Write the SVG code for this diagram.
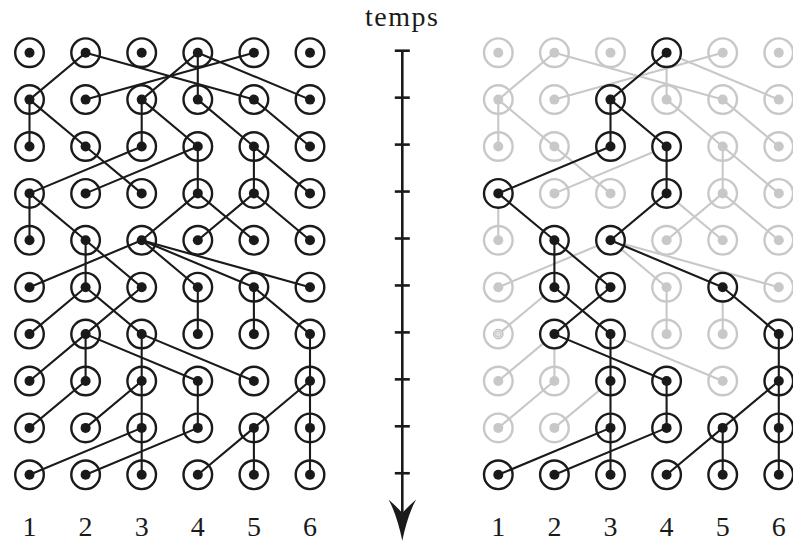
<svg xmlns="http://www.w3.org/2000/svg" width="793" height="541" viewBox="0 0 793 541">
<style>
.bg{fill:#ffffff}
.edge{stroke:#1a1a1a;stroke-width:2.1;fill:none;stroke-linecap:round}
.gedge{stroke:#c8c8c8;stroke-width:2.1;fill:none;stroke-linecap:round}
.ring{fill:#ffffff;stroke:#1a1a1a;stroke-width:2.4}
.dot{fill:#1a1a1a}
.gring{fill:none;stroke:#c8c8c8;stroke-width:2.4}
.gdot{fill:#c8c8c8}
.lbl{font-family:"Liberation Serif","DejaVu Serif",serif;font-size:28px;fill:#1a1a1a;text-anchor:middle}
.axis{stroke:#1a1a1a;stroke-width:2.6;fill:none}
</style>
<defs>
<g id="nk"><circle r="14.3" class="ring"/><circle r="5" class="dot"/></g>
<g id="ng"><circle r="14.3" class="gring"/><circle r="5" class="gdot"/></g>
</defs>
<rect class="bg" x="0" y="0" width="793" height="541"/>

<!-- LEFT PANEL -->
<g id="left-nodes">
<g id="L-1-0"><use href="#nk" x="29.5" y="52.7"/></g>
<g id="L-2-0"><use href="#nk" x="85.6" y="52.7"/></g>
<g id="L-3-0"><use href="#nk" x="141.7" y="52.7"/></g>
<g id="L-4-0"><use href="#nk" x="197.8" y="52.7"/></g>
<g id="L-5-0"><use href="#nk" x="253.9" y="52.7"/></g>
<g id="L-6-0"><use href="#nk" x="310" y="52.7"/></g>
<g id="L-1-1"><use href="#nk" x="29.5" y="99.6"/></g>
<g id="L-2-1"><use href="#nk" x="85.6" y="99.6"/></g>
<g id="L-3-1"><use href="#nk" x="141.7" y="99.6"/></g>
<g id="L-4-1"><use href="#nk" x="197.8" y="99.6"/></g>
<g id="L-5-1"><use href="#nk" x="253.9" y="99.6"/></g>
<g id="L-6-1"><use href="#nk" x="310" y="99.6"/></g>
<g id="L-1-2"><use href="#nk" x="29.5" y="146.5"/></g>
<g id="L-2-2"><use href="#nk" x="85.6" y="146.5"/></g>
<g id="L-3-2"><use href="#nk" x="141.7" y="146.5"/></g>
<g id="L-4-2"><use href="#nk" x="197.8" y="146.5"/></g>
<g id="L-5-2"><use href="#nk" x="253.9" y="146.5"/></g>
<g id="L-6-2"><use href="#nk" x="310" y="146.5"/></g>
<g id="L-1-3"><use href="#nk" x="29.5" y="193.4"/></g>
<g id="L-2-3"><use href="#nk" x="85.6" y="193.4"/></g>
<g id="L-3-3"><use href="#nk" x="141.7" y="193.4"/></g>
<g id="L-4-3"><use href="#nk" x="197.8" y="193.4"/></g>
<g id="L-5-3"><use href="#nk" x="253.9" y="193.4"/></g>
<g id="L-6-3"><use href="#nk" x="310" y="193.4"/></g>
<g id="L-1-4"><use href="#nk" x="29.5" y="240.3"/></g>
<g id="L-2-4"><use href="#nk" x="85.6" y="240.3"/></g>
<g id="L-3-4"><use href="#nk" x="141.7" y="240.3"/></g>
<g id="L-4-4"><use href="#nk" x="197.8" y="240.3"/></g>
<g id="L-5-4"><use href="#nk" x="253.9" y="240.3"/></g>
<g id="L-6-4"><use href="#nk" x="310" y="240.3"/></g>
<g id="L-1-5"><use href="#nk" x="29.5" y="287.2"/></g>
<g id="L-2-5"><use href="#nk" x="85.6" y="287.2"/></g>
<g id="L-3-5"><use href="#nk" x="141.7" y="287.2"/></g>
<g id="L-4-5"><use href="#nk" x="197.8" y="287.2"/></g>
<g id="L-5-5"><use href="#nk" x="253.9" y="287.2"/></g>
<g id="L-6-5"><use href="#nk" x="310" y="287.2"/></g>
<g id="L-1-6"><use href="#nk" x="29.5" y="334.1"/></g>
<g id="L-2-6"><use href="#nk" x="85.6" y="334.1"/></g>
<g id="L-3-6"><use href="#nk" x="141.7" y="334.1"/></g>
<g id="L-4-6"><use href="#nk" x="197.8" y="334.1"/></g>
<g id="L-5-6"><use href="#nk" x="253.9" y="334.1"/></g>
<g id="L-6-6"><use href="#nk" x="310" y="334.1"/></g>
<g id="L-1-7"><use href="#nk" x="29.5" y="381"/></g>
<g id="L-2-7"><use href="#nk" x="85.6" y="381"/></g>
<g id="L-3-7"><use href="#nk" x="141.7" y="381"/></g>
<g id="L-4-7"><use href="#nk" x="197.8" y="381"/></g>
<g id="L-5-7"><use href="#nk" x="253.9" y="381"/></g>
<g id="L-6-7"><use href="#nk" x="310" y="381"/></g>
<g id="L-1-8"><use href="#nk" x="29.5" y="427.9"/></g>
<g id="L-2-8"><use href="#nk" x="85.6" y="427.9"/></g>
<g id="L-3-8"><use href="#nk" x="141.7" y="427.9"/></g>
<g id="L-4-8"><use href="#nk" x="197.8" y="427.9"/></g>
<g id="L-5-8"><use href="#nk" x="253.9" y="427.9"/></g>
<g id="L-6-8"><use href="#nk" x="310" y="427.9"/></g>
<g id="L-1-9"><use href="#nk" x="29.5" y="474.8"/></g>
<g id="L-2-9"><use href="#nk" x="85.6" y="474.8"/></g>
<g id="L-3-9"><use href="#nk" x="141.7" y="474.8"/></g>
<g id="L-4-9"><use href="#nk" x="197.8" y="474.8"/></g>
<g id="L-5-9"><use href="#nk" x="253.9" y="474.8"/></g>
<g id="L-6-9"><use href="#nk" x="310" y="474.8"/></g>
</g>

<g id="left-connectors" class="edge">
<line x1="85.6" y1="52.7" x2="29.5" y2="99.6"/>
<line x1="253.9" y1="52.7" x2="85.6" y2="99.6"/>
<line x1="197.8" y1="52.7" x2="141.7" y2="99.6"/>
<line x1="197.8" y1="52.7" x2="197.8" y2="99.6"/>
<line x1="85.6" y1="52.7" x2="253.9" y2="99.6"/>
<line x1="197.8" y1="52.7" x2="310" y2="99.6"/>
<line x1="29.5" y1="99.6" x2="29.5" y2="146.5"/>
<line x1="29.5" y1="99.6" x2="85.6" y2="146.5"/>
<line x1="141.7" y1="99.6" x2="141.7" y2="146.5"/>
<line x1="141.7" y1="99.6" x2="197.8" y2="146.5"/>
<line x1="197.8" y1="99.6" x2="253.9" y2="146.5"/>
<line x1="253.9" y1="99.6" x2="310" y2="146.5"/>
<line x1="141.7" y1="146.5" x2="29.5" y2="193.4"/>
<line x1="197.8" y1="146.5" x2="85.6" y2="193.4"/>
<line x1="85.6" y1="146.5" x2="141.7" y2="193.4"/>
<line x1="197.8" y1="146.5" x2="197.8" y2="193.4"/>
<line x1="253.9" y1="146.5" x2="253.9" y2="193.4"/>
<line x1="253.9" y1="146.5" x2="310" y2="193.4"/>
<line x1="29.5" y1="193.4" x2="29.5" y2="240.3"/>
<line x1="29.5" y1="193.4" x2="85.6" y2="240.3"/>
<line x1="197.8" y1="193.4" x2="141.7" y2="240.3"/>
<line x1="253.9" y1="193.4" x2="197.8" y2="240.3"/>
<line x1="197.8" y1="193.4" x2="253.9" y2="240.3"/>
<line x1="253.9" y1="193.4" x2="310" y2="240.3"/>
<line x1="141.7" y1="240.3" x2="29.5" y2="287.2"/>
<line x1="85.6" y1="240.3" x2="85.6" y2="287.2"/>
<line x1="85.6" y1="240.3" x2="141.7" y2="287.2"/>
<line x1="141.7" y1="240.3" x2="197.8" y2="287.2"/>
<line x1="141.7" y1="240.3" x2="253.9" y2="287.2"/>
<line x1="141.7" y1="240.3" x2="310" y2="287.2"/>
<line x1="85.6" y1="287.2" x2="29.5" y2="334.1"/>
<line x1="141.7" y1="287.2" x2="85.6" y2="334.1"/>
<line x1="85.6" y1="287.2" x2="141.7" y2="334.1"/>
<line x1="197.8" y1="287.2" x2="197.8" y2="334.1"/>
<line x1="253.9" y1="287.2" x2="253.9" y2="334.1"/>
<line x1="253.9" y1="287.2" x2="310" y2="334.1"/>
<line x1="85.6" y1="334.1" x2="29.5" y2="381"/>
<line x1="85.6" y1="334.1" x2="85.6" y2="381"/>
<line x1="141.7" y1="334.1" x2="141.7" y2="381"/>
<line x1="85.6" y1="334.1" x2="197.8" y2="381"/>
<line x1="141.7" y1="334.1" x2="253.9" y2="381"/>
<line x1="310" y1="334.1" x2="310" y2="381"/>
<line x1="85.6" y1="381" x2="29.5" y2="427.9"/>
<line x1="141.7" y1="381" x2="85.6" y2="427.9"/>
<line x1="141.7" y1="381" x2="141.7" y2="427.9"/>
<line x1="197.8" y1="381" x2="197.8" y2="427.9"/>
<line x1="310" y1="381" x2="253.9" y2="427.9"/>
<line x1="310" y1="381" x2="310" y2="427.9"/>
<line x1="141.7" y1="427.9" x2="29.5" y2="474.8"/>
<line x1="197.8" y1="427.9" x2="85.6" y2="474.8"/>
<line x1="141.7" y1="427.9" x2="141.7" y2="474.8"/>
<line x1="253.9" y1="427.9" x2="197.8" y2="474.8"/>
<line x1="253.9" y1="427.9" x2="253.9" y2="474.8"/>
<line x1="310" y1="427.9" x2="310" y2="474.8"/>
</g>

<g id="left-labels" class="lbl">
<text x="29.5" y="536">1</text>
<text x="85.6" y="536">2</text>
<text x="141.7" y="536">3</text>
<text x="197.8" y="536">4</text>
<text x="253.9" y="536">5</text>
<text x="310" y="536">6</text>
</g>

<!-- TIME AXIS -->
<g id="time-axis">
<text class="lbl" x="401.5" y="25.5" textLength="73" lengthAdjust="spacing">temps</text>
<line class="axis" x1="402.3" y1="50.7" x2="402.3" y2="515"/>
<g class="axis" stroke-width="2.4">
<line x1="394.8" y1="50.7" x2="409.8" y2="50.7"/>
<line x1="394.8" y1="97.65" x2="409.8" y2="97.65"/>
<line x1="394.8" y1="144.6" x2="409.8" y2="144.6"/>
<line x1="394.8" y1="191.55" x2="409.8" y2="191.55"/>
<line x1="394.8" y1="238.5" x2="409.8" y2="238.5"/>
<line x1="394.8" y1="285.45" x2="409.8" y2="285.45"/>
<line x1="394.8" y1="332.4" x2="409.8" y2="332.4"/>
<line x1="394.8" y1="379.35" x2="409.8" y2="379.35"/>
<line x1="394.8" y1="426.3" x2="409.8" y2="426.3"/>
<line x1="394.8" y1="473.25" x2="409.8" y2="473.25"/>
</g>
<path d="M402.3,540.8 Q397,515 388.5,499.5 Q396,506 402.3,513 Q408.6,506 416.1,499.5 Q407.6,515 402.3,540.8 Z" fill="#1a1a1a"/>
</g>

<!-- RIGHT PANEL -->
<g id="right-panel" transform="translate(468.8,0)">
<g id="right-gray-connectors" class="gedge">
<line x1="85.6" y1="52.7" x2="29.5" y2="99.6"/>
<line x1="253.9" y1="52.7" x2="85.6" y2="99.6"/>
<line x1="197.8" y1="52.7" x2="197.8" y2="99.6"/>
<line x1="85.6" y1="52.7" x2="253.9" y2="99.6"/>
<line x1="197.8" y1="52.7" x2="310" y2="99.6"/>
<line x1="29.5" y1="99.6" x2="29.5" y2="146.5"/>
<line x1="29.5" y1="99.6" x2="85.6" y2="146.5"/>
<line x1="197.8" y1="99.6" x2="253.9" y2="146.5"/>
<line x1="253.9" y1="99.6" x2="310" y2="146.5"/>
<line x1="197.8" y1="146.5" x2="85.6" y2="193.4"/>
<line x1="85.6" y1="146.5" x2="141.7" y2="193.4"/>
<line x1="253.9" y1="146.5" x2="253.9" y2="193.4"/>
<line x1="253.9" y1="146.5" x2="310" y2="193.4"/>
<line x1="29.5" y1="193.4" x2="29.5" y2="240.3"/>
<line x1="253.9" y1="193.4" x2="197.8" y2="240.3"/>
<line x1="197.8" y1="193.4" x2="253.9" y2="240.3"/>
<line x1="253.9" y1="193.4" x2="310" y2="240.3"/>
<line x1="141.7" y1="240.3" x2="29.5" y2="287.2"/>
<line x1="141.7" y1="240.3" x2="197.8" y2="287.2"/>
<line x1="141.7" y1="240.3" x2="310" y2="287.2"/>
<line x1="85.6" y1="287.2" x2="29.5" y2="334.1"/>
<line x1="197.8" y1="287.2" x2="197.8" y2="334.1"/>
<line x1="253.9" y1="287.2" x2="253.9" y2="334.1"/>
<line x1="85.6" y1="334.1" x2="29.5" y2="381"/>
<line x1="85.6" y1="334.1" x2="85.6" y2="381"/>
<line x1="141.7" y1="334.1" x2="253.9" y2="381"/>
<line x1="85.6" y1="381" x2="29.5" y2="427.9"/>
<line x1="141.7" y1="381" x2="85.6" y2="427.9"/>
</g>

<g id="right-gray-nodes">
<g id="R-1-0"><use href="#ng" x="29.5" y="52.7"/></g>
<g id="R-2-0"><use href="#ng" x="85.6" y="52.7"/></g>
<g id="R-3-0"><use href="#ng" x="141.7" y="52.7"/></g>
<g id="R-5-0"><use href="#ng" x="253.9" y="52.7"/></g>
<g id="R-6-0"><use href="#ng" x="310" y="52.7"/></g>
<g id="R-1-1"><use href="#ng" x="29.5" y="99.6"/></g>
<g id="R-2-1"><use href="#ng" x="85.6" y="99.6"/></g>
<g id="R-4-1"><use href="#ng" x="197.8" y="99.6"/></g>
<g id="R-5-1"><use href="#ng" x="253.9" y="99.6"/></g>
<g id="R-6-1"><use href="#ng" x="310" y="99.6"/></g>
<g id="R-1-2"><use href="#ng" x="29.5" y="146.5"/></g>
<g id="R-2-2"><use href="#ng" x="85.6" y="146.5"/></g>
<g id="R-5-2"><use href="#ng" x="253.9" y="146.5"/></g>
<g id="R-6-2"><use href="#ng" x="310" y="146.5"/></g>
<g id="R-2-3"><use href="#ng" x="85.6" y="193.4"/></g>
<g id="R-3-3"><use href="#ng" x="141.7" y="193.4"/></g>
<g id="R-5-3"><use href="#ng" x="253.9" y="193.4"/></g>
<g id="R-6-3"><use href="#ng" x="310" y="193.4"/></g>
<g id="R-1-4"><use href="#ng" x="29.5" y="240.3"/></g>
<g id="R-4-4"><use href="#ng" x="197.8" y="240.3"/></g>
<g id="R-5-4"><use href="#ng" x="253.9" y="240.3"/></g>
<g id="R-6-4"><use href="#ng" x="310" y="240.3"/></g>
<g id="R-1-5"><use href="#ng" x="29.5" y="287.2"/></g>
<g id="R-4-5"><use href="#ng" x="197.8" y="287.2"/></g>
<g id="R-6-5"><use href="#ng" x="310" y="287.2"/></g>
<g id="R-1-6"><circle cx="29.5" cy="334.1" r="14.3" class="gring"/><circle cx="29.5" cy="334.1" r="4.8" fill="#e2e2e2" stroke="#b5b5b5" stroke-width="1"/><circle cx="29.5" cy="334.1" r="2.8" fill="none" stroke="#c2c2c2" stroke-width="0.8"/></g>
<g id="R-4-6"><use href="#ng" x="197.8" y="334.1"/></g>
<g id="R-5-6"><use href="#ng" x="253.9" y="334.1"/></g>
<g id="R-1-7"><use href="#ng" x="29.5" y="381"/></g>
<g id="R-2-7"><use href="#ng" x="85.6" y="381"/></g>
<g id="R-5-7"><use href="#ng" x="253.9" y="381"/></g>
<g id="R-1-8"><use href="#ng" x="29.5" y="427.9"/></g>
<g id="R-2-8"><use href="#ng" x="85.6" y="427.9"/></g>
</g>

<g id="right-black-nodes">
<g id="R-4-0"><use href="#nk" x="197.8" y="52.7"/></g>
<g id="R-3-1"><use href="#nk" x="141.7" y="99.6"/></g>
<g id="R-3-2"><use href="#nk" x="141.7" y="146.5"/></g>
<g id="R-4-2"><use href="#nk" x="197.8" y="146.5"/></g>
<g id="R-1-3"><use href="#nk" x="29.5" y="193.4"/></g>
<g id="R-4-3"><use href="#nk" x="197.8" y="193.4"/></g>
<g id="R-2-4"><use href="#nk" x="85.6" y="240.3"/></g>
<g id="R-3-4"><use href="#nk" x="141.7" y="240.3"/></g>
<g id="R-2-5"><use href="#nk" x="85.6" y="287.2"/></g>
<g id="R-3-5"><use href="#nk" x="141.7" y="287.2"/></g>
<g id="R-5-5"><use href="#nk" x="253.9" y="287.2"/></g>
<g id="R-2-6"><use href="#nk" x="85.6" y="334.1"/></g>
<g id="R-3-6"><use href="#nk" x="141.7" y="334.1"/></g>
<g id="R-6-6"><use href="#nk" x="310" y="334.1"/></g>
<g id="R-3-7"><use href="#nk" x="141.7" y="381"/></g>
<g id="R-4-7"><use href="#nk" x="197.8" y="381"/></g>
<g id="R-6-7"><use href="#nk" x="310" y="381"/></g>
<g id="R-3-8"><use href="#nk" x="141.7" y="427.9"/></g>
<g id="R-4-8"><use href="#nk" x="197.8" y="427.9"/></g>
<g id="R-5-8"><use href="#nk" x="253.9" y="427.9"/></g>
<g id="R-6-8"><use href="#nk" x="310" y="427.9"/></g>
<g id="R-1-9"><use href="#nk" x="29.5" y="474.8"/></g>
<g id="R-2-9"><use href="#nk" x="85.6" y="474.8"/></g>
<g id="R-3-9"><use href="#nk" x="141.7" y="474.8"/></g>
<g id="R-4-9"><use href="#nk" x="197.8" y="474.8"/></g>
<g id="R-5-9"><use href="#nk" x="253.9" y="474.8"/></g>
<g id="R-6-9"><use href="#nk" x="310" y="474.8"/></g>
</g>

<g id="right-black-connectors" class="edge">
<line x1="197.8" y1="52.7" x2="141.7" y2="99.6"/>
<line x1="141.7" y1="99.6" x2="141.7" y2="146.5"/>
<line x1="141.7" y1="99.6" x2="197.8" y2="146.5"/>
<line x1="141.7" y1="146.5" x2="29.5" y2="193.4"/>
<line x1="197.8" y1="146.5" x2="197.8" y2="193.4"/>
<line x1="29.5" y1="193.4" x2="85.6" y2="240.3"/>
<line x1="197.8" y1="193.4" x2="141.7" y2="240.3"/>
<line x1="85.6" y1="240.3" x2="85.6" y2="287.2"/>
<line x1="85.6" y1="240.3" x2="141.7" y2="287.2"/>
<line x1="141.7" y1="240.3" x2="253.9" y2="287.2"/>
<line x1="141.7" y1="287.2" x2="85.6" y2="334.1"/>
<line x1="85.6" y1="287.2" x2="141.7" y2="334.1"/>
<line x1="253.9" y1="287.2" x2="310" y2="334.1"/>
<line x1="141.7" y1="334.1" x2="141.7" y2="381"/>
<line x1="85.6" y1="334.1" x2="197.8" y2="381"/>
<line x1="310" y1="334.1" x2="310" y2="381"/>
<line x1="141.7" y1="381" x2="141.7" y2="427.9"/>
<line x1="197.8" y1="381" x2="197.8" y2="427.9"/>
<line x1="310" y1="381" x2="253.9" y2="427.9"/>
<line x1="310" y1="381" x2="310" y2="427.9"/>
<line x1="141.7" y1="427.9" x2="29.5" y2="474.8"/>
<line x1="197.8" y1="427.9" x2="85.6" y2="474.8"/>
<line x1="141.7" y1="427.9" x2="141.7" y2="474.8"/>
<line x1="253.9" y1="427.9" x2="197.8" y2="474.8"/>
<line x1="253.9" y1="427.9" x2="253.9" y2="474.8"/>
<line x1="310" y1="427.9" x2="310" y2="474.8"/>
</g>

<g id="right-labels" class="lbl">
<text x="29.5" y="536">1</text>
<text x="85.6" y="536">2</text>
<text x="141.7" y="536">3</text>
<text x="197.8" y="536">4</text>
<text x="253.9" y="536">5</text>
<text x="310" y="536">6</text>
</g>
</g>
</svg>
